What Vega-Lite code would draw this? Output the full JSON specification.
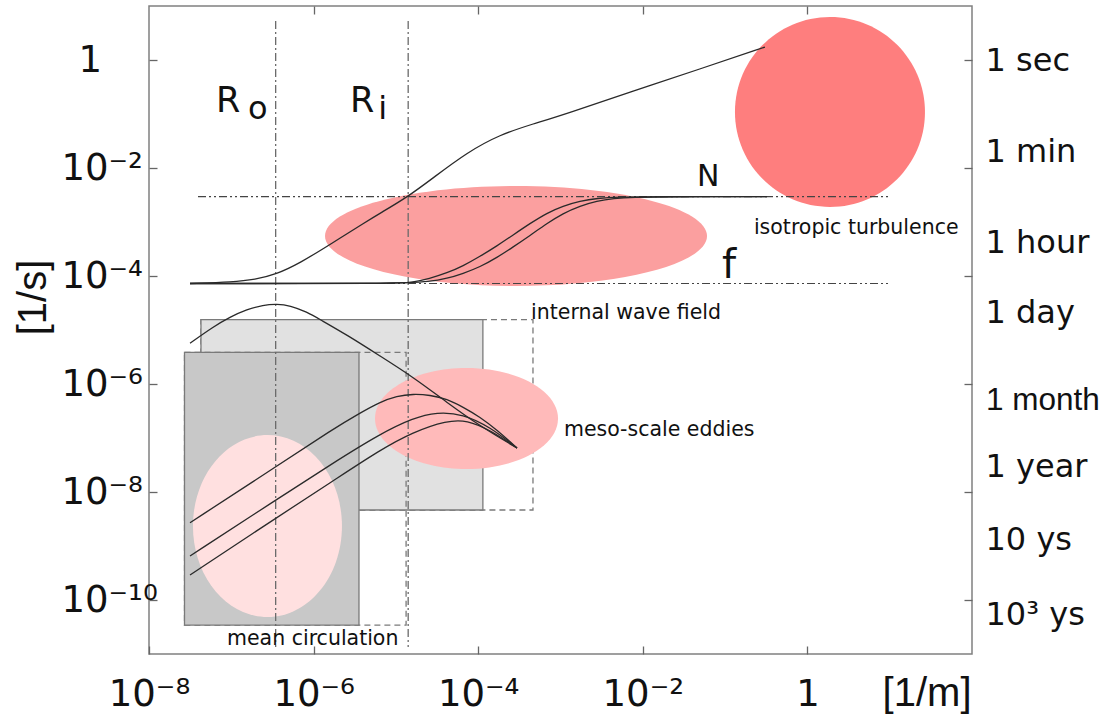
{
  "$schema": "https://vega.github.io/schema/vega-lite/v6.json",
  "width": 823,
  "height": 648,
  "autosize": {"type": "none"},
  "padding": {"left": 149, "top": 6, "right": 129, "bottom": 64},
  "background": "#ffffff",
  "config": {
    "view": {"stroke": "#808080", "strokeWidth": 1.5},
    "axis": {"grid": false, "domain": false, "tickColor": "#666666", "tickSize": -8, "tickWidth": 1.3}
  },
  "layer": [
    {
      "layer": [
        {
          "data": {"values": [{"x": 4.28e-8, "x2": 4.63e-4, "y": 1.56e-5, "y2": 4.64e-9}]},
          "mark": {"type": "rect", "fillOpacity": 0, "stroke": "#7a7a7a", "strokeWidth": 1.3, "strokeDash": [6, 4]},
          "encoding": {
            "x": {"field": "x", "type": "quantitative", "scale": {"type": "log", "domain": [1e-8, 100]},
              "axis": {"orient": "bottom", "values": [1e-8, 1e-6, 1e-4, 1e-2, 1],
                "labelExpr": "['10⁻⁸','','10⁻⁶','','10⁻⁴','','10⁻²','','1'][round(log(datum.value)/LN10)+8]",
                "labelFont": "DejaVu Sans", "labelFontSize": 37, "labelColor": "#111111",
                "labelBaseline": "alphabetic", "labelPadding": 59, "labelFlush": false, "labelOverlap": false, "labelBound": false,
                "title": "[1/m]", "titleFont": "Liberation Sans", "titleFontSize": 40, "titleFontWeight": "normal", "titleColor": "#111111",
                "titleAnchor": "end", "titleAlign": "right", "titleX": 822, "titleY": 51, "titleBaseline": "alphabetic"}},
            "x2": {"field": "x2"},
            "y": {"field": "y", "type": "quantitative", "scale": {"type": "log", "domain": [1e-11, 10]},
              "axis": {"orient": "left", "values": [1, 1e-2, 1e-4, 1e-6, 1e-8, 1e-10],
                "labelExpr": "['10⁻¹⁰','','10⁻⁸','','10⁻⁶','','10⁻⁴','','10⁻²','','1'][round(log(datum.value)/LN10)+10]",
                "labelFont": "DejaVu Sans", "labelFontSize": 37, "labelColor": "#111111",
                "labelAlign": "left", "labelBaseline": "middle",
                "labelPadding": {"condition": {"test": "datum.value >= 1", "value": 79}, "value": 96},
                "labelOverlap": false, "labelBound": false,
                "title": "[1/s]", "titleFont": "Liberation Sans", "titleFontSize": 40, "titleFontWeight": "normal", "titleColor": "#111111",
                "titleAngle": 270, "titleAlign": "center", "titleBaseline": "middle", "titleX": -116, "titleY": 291}},
            "y2": {"field": "y2"}
          }
        },
        {
          "data": {"values": [{"x": 4.28e-8, "x2": 1.14e-4, "y": 1.56e-5, "y2": 4.64e-9}]},
          "mark": {"type": "rect", "fill": "#e1e1e1", "stroke": "#7a7a7a", "strokeWidth": 1.3},
          "encoding": {
            "x": {"field": "x", "type": "quantitative", "scale": {"type": "log", "domain": [1e-8, 100]}},
            "x2": {"field": "x2"},
            "y": {"field": "y", "type": "quantitative", "scale": {"type": "log", "domain": [1e-11, 10]}},
            "y2": {"field": "y2"}
          }
        },
        {
          "data": {"values": [{"x": 2.7e-8, "x2": 1.33e-5, "y": 3.86e-6, "y2": 3.44e-11}]},
          "mark": {"type": "rect", "fillOpacity": 0, "stroke": "#7a7a7a", "strokeWidth": 1.3, "strokeDash": [6, 4]},
          "encoding": {
            "x": {"field": "x", "type": "quantitative", "scale": {"type": "log", "domain": [1e-8, 100]}},
            "x2": {"field": "x2"},
            "y": {"field": "y", "type": "quantitative", "scale": {"type": "log", "domain": [1e-11, 10]}},
            "y2": {"field": "y2"}
          }
        },
        {
          "data": {"values": [{"x": 2.7e-8, "x2": 3.56e-6, "y": 3.86e-6, "y2": 3.44e-11}]},
          "mark": {"type": "rect", "fill": "#c8c8c8", "stroke": "#7a7a7a", "strokeWidth": 1.3},
          "encoding": {
            "x": {"field": "x", "type": "quantitative", "scale": {"type": "log", "domain": [1e-8, 100]}},
            "x2": {"field": "x2"},
            "y": {"field": "y", "type": "quantitative", "scale": {"type": "log", "domain": [1e-11, 10]}},
            "y2": {"field": "y2"}
          }
        },
        {
          "data": {"values": [{"x": 2.75e-7, "y": 2.34e-9}]},
          "mark": {"type": "point", "shape": "M -0.8187 0 A 0.8187 1 0 1 1 0.8187 0 A 0.8187 1 0 1 1 -0.8187 0 Z", "size": 33124, "filled": true, "fill": "#ffe0e0", "opacity": 1, "strokeWidth": 0},
          "encoding": {
            "x": {"field": "x", "type": "quantitative", "scale": {"type": "log", "domain": [1e-8, 100]}},
            "y": {"field": "y", "type": "quantitative", "scale": {"type": "log", "domain": [1e-11, 10]}}
          }
        },
        {
          "data": {"values": [{"x": 7.21e-5, "y": 2.3e-7}]},
          "mark": {"type": "point", "shape": "M -1 0 A 1 0.552 0 1 1 1 0 A 1 0.552 0 1 1 -1 0 Z", "size": 33489, "filled": true, "fill": "#ffbaba", "opacity": 1, "strokeWidth": 0},
          "encoding": {
            "x": {"field": "x", "type": "quantitative", "scale": {"type": "log", "domain": [1e-8, 100]}},
            "y": {"field": "y", "type": "quantitative", "scale": {"type": "log", "domain": [1e-11, 10]}}
          }
        },
        {
          "data": {"values": [{"x": 2.88e-4, "y": 5.51e-4}]},
          "mark": {"type": "point", "shape": "M -1 0 A 1 0.2618 0 1 1 1 0 A 1 0.2618 0 1 1 -1 0 Z", "size": 145924, "filled": true, "fill": "#fb9f9f", "opacity": 1, "strokeWidth": 0},
          "encoding": {
            "x": {"field": "x", "type": "quantitative", "scale": {"type": "log", "domain": [1e-8, 100]}},
            "y": {"field": "y", "type": "quantitative", "scale": {"type": "log", "domain": [1e-11, 10]}}
          }
        },
        {
          "data": {"values": [{"x": 1.88, "y": 0.109}]},
          "mark": {"type": "point", "shape": "M -1 0 A 1 1 0 1 1 1 0 A 1 1 0 1 1 -1 0 Z", "size": 36100, "filled": true, "fill": "#fe7e7e", "opacity": 1, "strokeWidth": 0},
          "encoding": {
            "x": {"field": "x", "type": "quantitative", "scale": {"type": "log", "domain": [1e-8, 100]}},
            "y": {"field": "y", "type": "quantitative", "scale": {"type": "log", "domain": [1e-11, 10]}}
          }
        },
        {
          "data": {"values": [{"x": 3.46e-7, "y": 5.27, "y2": 1.35e-11}, {"x": 1.41e-5, "y": 5.27, "y2": 1.35e-11}]},
          "mark": {"type": "rule", "stroke": "#6a6a6a", "strokeWidth": 1.3, "strokeDash": [8, 3, 2, 3]},
          "encoding": {
            "x": {"field": "x", "type": "quantitative", "scale": {"type": "log", "domain": [1e-8, 100]}},
            "y": {"field": "y", "type": "quantitative", "scale": {"type": "log", "domain": [1e-11, 10]}},
            "y2": {"field": "y2"}
          }
        },
        {
          "data": {"values": [{"x": 3.94e-8, "x2": 10.1, "y": 2.94e-3}, {"x": 3.94e-8, "x2": 10.1, "y": 7.27e-5}]},
          "mark": {"type": "rule", "stroke": "#444444", "strokeWidth": 1.2, "strokeDash": [8, 3, 2, 3, 2, 3]},
          "encoding": {
            "x": {"field": "x", "type": "quantitative", "scale": {"type": "log", "domain": [1e-8, 100]}},
            "x2": {"field": "x2"},
            "y": {"field": "y", "type": "quantitative", "scale": {"type": "log", "domain": [1e-11, 10]}}
          }
        },
        {
          "data": {"values": [
            {"c": "A", "x": 3.15e-8, "y": 7.26e-5}, {"c": "A", "x": 1.05e-7, "y": 7.74e-5}, {"c": "A", "x": 1.94e-7, "y": 8.61e-5},
            {"c": "A", "x": 3.49e-7, "y": 1.07e-4}, {"c": "A", "x": 6.84e-7, "y": 1.74e-4}, {"c": "A", "x": 1.58e-6, "y": 3.83e-4},
            {"c": "A", "x": 4.46e-6, "y": 1.04e-3}, {"c": "A", "x": 6.41e-6, "y": 1.45e-3}, {"c": "A", "x": 1.4e-5, "y": 2.94e-3},
            {"c": "A", "x": 2.82e-5, "y": 6.53e-3}, {"c": "A", "x": 7.31e-5, "y": 0.0194}, {"c": "A", "x": 1.84e-4, "y": 0.0417},
            {"c": "A", "x": 4.63e-4, "y": 0.0653}, {"c": "A", "x": 1.2e-3, "y": 0.102}, {"c": "A", "x": 7.6e-3, "y": 0.267},
            {"c": "A", "x": 0.0496, "y": 0.681}, {"c": "A", "x": 0.305, "y": 1.74},
            {"c": "B", "x": 3.15e-8, "y": 7.26e-5}, {"c": "B", "x": 1.12e-5, "y": 7.26e-5}, {"c": "B", "x": 1.48e-5, "y": 7.52e-5},
            {"c": "B", "x": 2.59e-5, "y": 8.99e-5}, {"c": "B", "x": 4.18e-5, "y": 1.14e-4}, {"c": "B", "x": 6.53e-5, "y": 1.53e-4},
            {"c": "B", "x": 1.05e-4, "y": 2.3e-4}, {"c": "B", "x": 1.69e-4, "y": 3.6e-4}, {"c": "B", "x": 2.65e-4, "y": 5.74e-4},
            {"c": "B", "x": 4.26e-4, "y": 9.38e-4}, {"c": "B", "x": 6.85e-4, "y": 1.47e-3}, {"c": "B", "x": 1.07e-3, "y": 1.98e-3},
            {"c": "B", "x": 1.73e-3, "y": 2.45e-3}, {"c": "B", "x": 2.77e-3, "y": 2.75e-3}, {"c": "B", "x": 5.28e-3, "y": 2.9e-3},
            {"c": "B", "x": 0.0122, "y": 2.94e-3}, {"c": "B", "x": 0.323, "y": 2.94e-3},
            {"c": "C", "x": 3.15e-8, "y": 7.26e-5}, {"c": "C", "x": 1.12e-5, "y": 7.26e-5}, {"c": "C", "x": 2.59e-5, "y": 7.84e-5},
            {"c": "C", "x": 4.18e-5, "y": 8.99e-5}, {"c": "C", "x": 6.53e-5, "y": 1.11e-4}, {"c": "C", "x": 1.05e-4, "y": 1.47e-4},
            {"c": "C", "x": 1.69e-4, "y": 2.2e-4}, {"c": "C", "x": 2.65e-4, "y": 3.44e-4}, {"c": "C", "x": 4.26e-4, "y": 5.62e-4},
            {"c": "C", "x": 6.85e-4, "y": 9.38e-4}, {"c": "C", "x": 1.07e-3, "y": 1.44e-3}, {"c": "C", "x": 1.73e-3, "y": 1.98e-3},
            {"c": "C", "x": 2.77e-3, "y": 2.45e-3}, {"c": "C", "x": 4.35e-3, "y": 2.72e-3}, {"c": "C", "x": 8.04e-3, "y": 2.88e-3},
            {"c": "C", "x": 0.0162, "y": 2.94e-3}, {"c": "C", "x": 0.323, "y": 2.94e-3},
            {"c": "D", "x": 3.15e-8, "y": 5.68e-6}, {"c": "D", "x": 6.0e-8, "y": 1.14e-5}, {"c": "D", "x": 9.64e-8, "y": 1.74e-5},
            {"c": "D", "x": 1.55e-7, "y": 2.4e-5}, {"c": "D", "x": 2.43e-7, "y": 2.9e-5}, {"c": "D", "x": 3.59e-7, "y": 3.03e-5},
            {"c": "D", "x": 5.16e-7, "y": 2.84e-5}, {"c": "D", "x": 8.32e-7, "y": 2.15e-5}, {"c": "D", "x": 1.2e-6, "y": 1.56e-5},
            {"c": "D", "x": 2.55e-6, "y": 8.08e-6}, {"c": "D", "x": 6.41e-6, "y": 3.3e-6}, {"c": "D", "x": 1.61e-5, "y": 1.35e-6},
            {"c": "D", "x": 4.18e-5, "y": 4.54e-7}, {"c": "D", "x": 1.05e-4, "y": 1.67e-7}, {"c": "D", "x": 2.96e-4, "y": 6.53e-8},
            {"c": "E", "x": 3.15e-8, "y": 2.7e-9}, {"c": "E", "x": 3.49e-7, "y": 2.94e-8}, {"c": "E", "x": 1.72e-6, "y": 1.47e-7},
            {"c": "E", "x": 3.66e-6, "y": 2.9e-7}, {"c": "E", "x": 6.41e-6, "y": 4.64e-7}, {"c": "E", "x": 1.03e-5, "y": 6.0e-7},
            {"c": "E", "x": 1.61e-5, "y": 6.53e-7}, {"c": "E", "x": 2.59e-5, "y": 6.25e-7}, {"c": "E", "x": 4.18e-5, "y": 5.27e-7},
            {"c": "E", "x": 6.53e-5, "y": 3.75e-7}, {"c": "E", "x": 1.05e-4, "y": 2.45e-7}, {"c": "E", "x": 1.69e-4, "y": 1.41e-7},
            {"c": "E", "x": 2.96e-4, "y": 6.53e-8},
            {"c": "F", "x": 3.15e-8, "y": 6.53e-10}, {"c": "F", "x": 3.49e-7, "y": 7.11e-9}, {"c": "F", "x": 1.72e-6, "y": 3.44e-8},
            {"c": "F", "x": 6.41e-6, "y": 1.19e-7}, {"c": "F", "x": 1.61e-5, "y": 2.34e-7}, {"c": "F", "x": 3.16e-5, "y": 3.03e-7},
            {"c": "F", "x": 6.53e-5, "y": 2.78e-7}, {"c": "F", "x": 1.39e-4, "y": 1.6e-7}, {"c": "F", "x": 2.96e-4, "y": 6.53e-8},
            {"c": "G", "x": 3.15e-8, "y": 2.9e-10}, {"c": "G", "x": 3.49e-7, "y": 3.3e-9}, {"c": "G", "x": 1.72e-6, "y": 1.6e-8},
            {"c": "G", "x": 6.41e-6, "y": 6.0e-8}, {"c": "G", "x": 1.61e-5, "y": 1.29e-7}, {"c": "G", "x": 4.18e-5, "y": 2.11e-7},
            {"c": "G", "x": 7.31e-5, "y": 2.15e-7}, {"c": "G", "x": 1.39e-4, "y": 1.41e-7}, {"c": "G", "x": 2.96e-4, "y": 6.53e-8}
          ]},
          "mark": {"type": "line", "stroke": "#2a2a2a", "strokeWidth": 1.3, "interpolate": "basis"},
          "encoding": {
            "x": {"field": "x", "type": "quantitative", "scale": {"type": "log", "domain": [1e-8, 100]}},
            "y": {"field": "y", "type": "quantitative", "scale": {"type": "log", "domain": [1e-11, 10]}},
            "detail": {"field": "c"}
          }
        },
        {
          "data": {"values": [{"t": "R", "x": 6.52e-8, "y": 0.109}, {"t": "R", "x": 2.77e-6, "y": 0.109}]},
          "mark": {"type": "text", "align": "left", "baseline": "alphabetic", "font": "DejaVu Sans", "fontSize": 35, "fill": "#111111"},
          "encoding": {
            "x": {"field": "x", "type": "quantitative", "scale": {"type": "log", "domain": [1e-8, 100]}},
            "y": {"field": "y", "type": "quantitative", "scale": {"type": "log", "domain": [1e-11, 10]}},
            "text": {"field": "t"}
          }
        },
        {
          "data": {"values": [{"t": "N", "x": 0.0456, "y": 4.64e-3}]},
          "mark": {"type": "text", "align": "left", "baseline": "alphabetic", "font": "DejaVu Sans", "fontSize": 30, "fill": "#111111"},
          "encoding": {
            "x": {"field": "x", "type": "quantitative", "scale": {"type": "log", "domain": [1e-8, 100]}},
            "y": {"field": "y", "type": "quantitative", "scale": {"type": "log", "domain": [1e-11, 10]}},
            "text": {"field": "t"}
          }
        },
        {
          "data": {"values": [{"t": "o", "x": 1.6e-7, "y": 0.0808}, {"t": "i", "x": 6.1e-6, "y": 0.0808}]},
          "mark": {"type": "text", "align": "left", "baseline": "alphabetic", "font": "DejaVu Sans", "fontSize": 32, "fill": "#111111"},
          "encoding": {
            "x": {"field": "x", "type": "quantitative", "scale": {"type": "log", "domain": [1e-8, 100]}},
            "y": {"field": "y", "type": "quantitative", "scale": {"type": "log", "domain": [1e-11, 10]}},
            "text": {"field": "t"}
          }
        },
        {
          "data": {"values": [{"t": "f", "x": 0.0916, "y": 9.18e-5}]},
          "mark": {"type": "text", "align": "left", "baseline": "alphabetic", "font": "DejaVu Sans", "fontSize": 40, "fill": "#111111"},
          "encoding": {
            "x": {"field": "x", "type": "quantitative", "scale": {"type": "log", "domain": [1e-8, 100]}},
            "y": {"field": "y", "type": "quantitative", "scale": {"type": "log", "domain": [1e-11, 10]}},
            "text": {"field": "t"}
          }
        },
        {
          "data": {"values": [
            {"t": "isotropic turbulence", "x": 0.224, "y": 6.1e-4},
            {"t": "internal wave field", "x": 4.39e-4, "y": 1.6e-5},
            {"t": "meso-scale eddies", "x": 1.1e-3, "y": 1.09e-7},
            {"t": "mean circulation", "x": 8.87e-8, "y": 1.44e-11}
          ]},
          "mark": {"type": "text", "align": "left", "baseline": "alphabetic", "font": "DejaVu Sans", "fontSize": 20.5, "fill": "#111111"},
          "encoding": {
            "x": {"field": "x", "type": "quantitative", "scale": {"type": "log", "domain": [1e-8, 100]}},
            "y": {"field": "y", "type": "quantitative", "scale": {"type": "log", "domain": [1e-11, 10]}},
            "text": {"field": "t"}
          }
        },
        {
          "data": {"values": [{"t": "1 month", "x": 100, "y": 3.3e-7}]},
          "mark": {"type": "text", "align": "left", "baseline": "alphabetic", "dx": 14, "font": "Liberation Sans", "fontSize": 31.5, "fill": "#111111"},
          "encoding": {
            "x": {"field": "x", "type": "quantitative", "scale": {"type": "log", "domain": [1e-8, 100]}},
            "y": {"field": "y", "type": "quantitative", "scale": {"type": "log", "domain": [1e-11, 10]}},
            "text": {"field": "t"}
          }
        }
      ]
    },
    {
      "data": {"values": [
        {"t": "1 sec", "v": 0.626},
        {"t": "1 min", "v": 0.0129},
        {"t": "1 hour", "v": 2.67e-4},
        {"t": "1 day", "v": 1.35e-5},
        {"t": "1 year", "v": 1.9e-8},
        {"t": "10 ys", "v": 8.43e-10},
        {"t": "10³ ys", "v": 3.44e-11}
      ]},
      "mark": {"type": "text", "align": "left", "baseline": "alphabetic", "dx": 13.5, "font": "DejaVu Sans", "fontSize": 32, "fill": "#111111"},
      "encoding": {
        "x": {"datum": 100, "type": "quantitative", "scale": {"type": "log", "domain": [1e-8, 100]},
          "axis": {"orient": "top", "values": [1e-6, 1e-4, 1e-2, 1], "labels": false, "title": null}},
        "y": {"field": "v", "type": "quantitative", "scale": {"type": "log", "domain": [1e-11, 10]},
          "axis": {"orient": "right", "values": [1, 1e-2, 1e-4, 1e-6, 1e-8, 1e-10], "labels": false, "title": null}},
        "text": {"field": "t"}
      }
    }
  ],
  "resolve": {"scale": {"x": "independent", "y": "independent"}}
}
